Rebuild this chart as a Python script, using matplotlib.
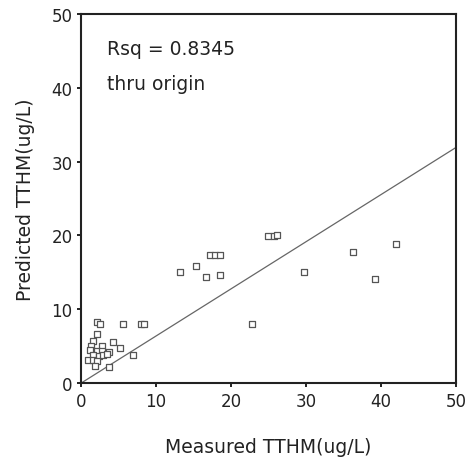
import matplotlib
matplotlib.use("Agg")
import matplotlib.pyplot as plt
import numpy as np

measured = [13.2, 15.3, 16.7, 17.2, 17.9, 18.5, 18.6, 25.0, 25.7, 26.2, 29.8, 36.3, 39.2, 42.0,
            22.8, 5.6, 8.0, 8.4, 2.2, 2.6, 2.1, 1.55, 4.3, 1.3, 2.76, 5.2, 1.2, 2.1, 2.8, 3.7,
            1.55, 2.4, 2.9, 7.0, 1.0, 1.55, 2.1, 1.9, 3.7, 3.5]
predicted = [15.1, 15.8, 14.4, 17.3, 17.3, 17.3, 14.7, 19.9, 19.9, 20.0, 15.1, 17.7, 14.1, 18.9,
             8.0, 8.0, 8.0, 8.0, 8.3, 8.0, 6.7, 5.7, 5.6, 5.1, 5.1, 4.7, 4.5, 4.4, 4.3, 4.2,
             3.8, 3.7, 3.8, 3.8, 3.1, 3.1, 3.0, 2.3, 2.2, 3.9]
fit_slope = 0.638
ticks = [0, 10, 20, 30, 40, 50]

fig = plt.figure(figsize=(4.68, 4.64), dpi=100)
ax = fig.add_axes([0.173, 0.172, 0.801, 0.796])
ax.scatter(measured, predicted, marker='s', s=18, facecolors='white', edgecolors='#555555',
           linewidths=0.9, zorder=3)
xl = np.array([0, 50])
ax.plot(xl, fit_slope * xl, color='#666666', lw=0.9, zorder=2)
ax.set_xlim(0, 50)
ax.set_ylim(0, 50)
ax.set_xticks(ticks)
ax.set_yticks(ticks)
ax.tick_params(direction='out', length=3, width=1.4, labelsize=12, colors='#222222', pad=3)
for s in ax.spines.values():
    s.set_linewidth(1.5)
    s.set_color('#222222')
ax.set_xlabel('Measured TTHM(ug/L)', fontsize=13.5, labelpad=20, color='#222222')
ax.set_ylabel('Predicted TTHM(ug/L)', fontsize=13.5, labelpad=12, color='#222222')
ax.text(3.5, 45.3, 'Rsq = 0.8345', fontsize=13.5, va='center', color='#222222')
ax.text(3.5, 40.6, 'thru origin', fontsize=13.5, va='center', color='#222222')
fig.savefig('out.png', dpi=100)
